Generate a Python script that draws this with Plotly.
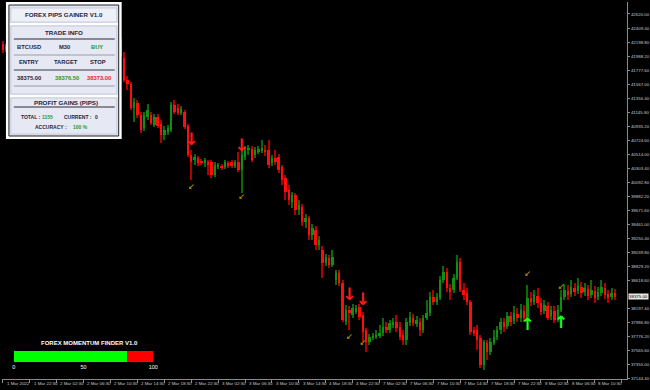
import plotly.graph_objects as go

# ---------------- data ----------------
opens = [42170, 42080, 42140, 42230, 42200, 42305, 42380, 42335, 42410, 42470, 42425, 42500, 42530, 42455, 42380, 42440, 42500, 42560, 42515, 42590, 42620, 42545, 42470, 42500, 42410, 42350, 42395, 42305, 42260, 42320, 42380, 42425, 42470, 42410, 42305, 42230,
         41960, 41630, 41570, 41210, 41285, 41105, 40910, 41075, 41105, 40955,
         41075, 40970, 40805, 40850, 40880, 41255, 41210, 41135, 41150, 40940,
         40505, 40430, 40460, 40415, 40385, 40400, 40400, 40205, 40325, 40340,
         40325, 40385, 40400, 40340, 40400, 40280, 40475, 40580, 40595, 40505,
         40550, 40565, 40580, 40580, 40385, 40460, 40475, 40325, 40160, 39980,
         39800, 39905, 39680, 39725, 39500, 39560, 39305, 39380, 39155, 39080,
         38885, 38960, 38855, 38630, 38735, 38585, 38000, 38180, 38105, 38150,
         38225, 38105, 37880, 37700, 37760, 37775, 37790, 37835, 37925, 37880,
         37955, 38000, 37925, 37805, 37730, 37985, 38060, 37970, 38000, 37880,
         38060, 38135, 38375, 38300, 38360, 38630, 38750, 38510, 38480, 38660,
         38900, 38480, 38435, 38300, 37880, 37880, 37760, 37355, 37685, 37550,
         37685, 37775, 37880, 38000, 37940, 38090, 38015, 38120, 38060, 38165,
         38075, 38360, 38300, 38390, 38285, 38165, 38240, 38090, 38165, 38045,
         38180, 38375, 38465, 38420, 38510, 38465, 38525, 38450, 38495, 38405,
         38465, 38375, 38435, 38510, 38420, 38375, 38435]
closes = [42080, 42140, 42230, 42200, 42305, 42380, 42335, 42410, 42470, 42425, 42500, 42530, 42455, 42380, 42440, 42500, 42560, 42515, 42590, 42620, 42545, 42470, 42500, 42410, 42350, 42395, 42305, 42260, 42320, 42380, 42425, 42470, 42410, 42305, 42230, 42005,
          41630, 41570, 41210, 41300, 41105, 40880, 41105, 41180, 40985, 41075,
          40940, 40805, 40880, 40910, 41255, 41150, 41135, 41195, 40925, 40505,
          40400, 40475, 40385, 40385, 40430, 40355, 40205, 40355, 40355, 40310,
          40400, 40340, 40340, 40400, 40280, 40505, 40580, 40610, 40430, 40580,
          40595, 40610, 40550, 40355, 40460, 40400, 40280, 40130, 39950, 39830,
          39905, 39680, 39755, 39500, 39560, 39305, 39410, 39155, 39230, 38885,
          38975, 38855, 38975, 38735, 38585, 38030, 38180, 38135, 38210, 38210,
          38075, 37850, 37700, 37775, 37790, 37805, 37835, 37925, 37880, 37985,
          38000, 37910, 37775, 37730, 38000, 38075, 37985, 38030, 37880, 38060,
          38135, 38375, 38300, 38375, 38630, 38750, 38510, 38450, 38660, 38900,
          38480, 38405, 38300, 37850, 37835, 37730, 37355, 37700, 37550, 37700,
          37775, 37880, 38000, 37925, 38090, 38000, 38135, 38060, 38180, 38060,
          38360, 38300, 38405, 38285, 38150, 38255, 38060, 38180, 38030, 38180,
          38375, 38480, 38405, 38525, 38450, 38540, 38435, 38510, 38390, 38480,
          38360, 38450, 38525, 38405, 38360, 38435, 38375]
highs = [42215, 42170, 42275, 42260, 42335, 42425, 42410, 42455, 42515, 42500, 42545, 42575, 42560, 42485, 42470, 42545, 42605, 42590, 42635, 42665, 42650, 42575, 42545, 42530, 42440, 42440, 42425, 42335, 42365, 42410, 42470, 42515, 42500, 42440, 42335, 42260,
         42050, 41690, 41600, 41360, 41330, 41150, 41150, 41270, 41150, 41120,
         41120, 41030, 40940, 40955, 41300, 41330, 41270, 41240, 41180, 40970,
         40580, 40520, 40490, 40445, 40460, 40430, 40430, 40400, 40385, 40370,
         40430, 40415, 40430, 40430, 40550, 40610, 40640, 40655, 40640, 40625,
         40640, 40730, 40655, 40730, 40505, 40580, 40520, 40355, 40205, 40055,
         39950, 39935, 39830, 39770, 39620, 39590, 39470, 39440, 39290, 39140,
         39020, 39005, 39080, 38780, 38780, 38630, 38255, 38240, 38270, 38255,
         38270, 38150, 37910, 37820, 37835, 37880, 37955, 38060, 38000, 38030,
         38060, 38105, 38000, 37880, 38060, 38150, 38120, 38090, 38060, 38105,
         38330, 38450, 38480, 38435, 38690, 38840, 38810, 38570, 38720, 39005,
         38960, 38585, 38510, 38330, 37925, 37955, 37805, 37730, 37730, 37760,
         37880, 37940, 38060, 38060, 38150, 38150, 38240, 38210, 38270, 38255,
         38555, 38450, 38480, 38510, 38360, 38330, 38300, 38240, 38240, 38255,
         38480, 38570, 38555, 38630, 38585, 38660, 38600, 38585, 38555, 38630,
         38540, 38525, 38630, 38585, 38480, 38510, 38495]
lows = [42035, 42050, 42110, 42155, 42170, 42275, 42290, 42305, 42380, 42380, 42395, 42455, 42410, 42335, 42350, 42410, 42470, 42470, 42485, 42545, 42500, 42425, 42440, 42365, 42305, 42320, 42260, 42215, 42230, 42290, 42350, 42395, 42365, 42260, 42185, 41975,
        41600, 41480, 41180, 41000, 41060, 40835, 40865, 41030, 40955, 40925,
        40910, 40685, 40730, 40805, 40850, 41120, 41105, 41105, 40895, 40475,
        40130, 40355, 40340, 40355, 40325, 40205, 40160, 40175, 40295, 40280,
        40295, 40310, 40310, 40310, 40250, 39935, 40430, 40505, 40400, 40460,
        40520, 40535, 40490, 40310, 40340, 40355, 40235, 40055, 39830, 39755,
        39710, 39605, 39605, 39440, 39410, 39230, 39230, 39080, 39080, 38660,
        38840, 38810, 38825, 38555, 38540, 38000, 37955, 37880, 38060, 38120,
        38030, 37700, 37550, 37655, 37730, 37745, 37760, 37790, 37835, 37835,
        37910, 37850, 37730, 37655, 37655, 37940, 37940, 37925, 37790, 37835,
        38030, 38090, 38255, 38255, 38330, 38585, 38450, 38330, 38435, 38630,
        38450, 38330, 38255, 37805, 37790, 37580, 37310, 37280, 37430, 37505,
        37655, 37730, 37820, 37850, 37895, 37940, 37970, 38000, 38000, 38000,
        38030, 38240, 38255, 38210, 38105, 38120, 38030, 38030, 37985, 38000,
        38150, 38330, 38330, 38375, 38390, 38420, 38360, 38390, 38330, 38360,
        38285, 38330, 38390, 38345, 38285, 38330, 38330]

assert len(opens) == len(closes) == len(highs) == len(lows)

date_tick_idx = [0, 8, 16, 24, 32, 40, 48, 56, 64, 72, 80, 88, 96, 104, 112, 120,
                 128, 136, 144, 152, 160, 168, 176]
date_labels = ["1 Mar 2022", "1 Mar 22:30", "2 Mar 02:30", "2 Mar 06:30", "2 Mar 10:30",
               "2 Mar 14:30", "2 Mar 18:30", "2 Mar 22:30", "3 Mar 02:30", "3 Mar 06:30",
               "3 Mar 10:30", "3 Mar 14:30", "4 Mar 18:30", "4 Mar 22:30", "7 Mar 02:30",
               "7 Mar 06:30", "7 Mar 10:30", "7 Mar 14:30", "7 Mar 18:30", "7 Mar 22:30",
               "8 Mar 02:30", "8 Mar 06:30", "8 Mar 10:30"]
extra_tick_idx = [184]

price_ticks = [42620.0, 42409.4, 42198.8, 41988.2, 41777.6, 41567.0, 41356.4, 41145.8,
               40935.2, 40724.6, 40514.0, 40303.4, 40092.8, 39882.2, 39671.6, 39461.0,
               39250.4, 39039.8, 38829.2, 38618.6, 38197.4, 37986.8, 37776.2, 37565.6,
               37355.0, 37144.4]

sell_idx = [56, 71, 103, 107]
sell_level = [40715, 40625, 38390, 38315]
buy_idx = [156, 166]
buy_level = [37940, 37970]
mark_idx = [56, 71, 103, 107, 156, 166]
mark_level = [40025, 39875, 37775, 37685, 38720, 38525]

symbol = "BTCUSD"
timeframe = "M30"
signal = "BUY"
entry_price = 38375.00
target_price = 38376.50
stop_price = 38373.00
total_pips = 1155
current_pips = 0
accuracy = 100
last_price = 38375.00
momentum = 81

# ---------------- geometry helpers ----------------
W, H = 650, 390
PL, PR, PT, PB = 0, 632, 2, 379


def fx(px):
    return (px - PL) / (PR - PL)


def fy(py):
    return (PB - py) / (PB - PT)


BULL = "#109010"
BULL_W = "#0a6a0a"
BEAR = "#ff0d0d"
BEAR_W = "#b00000"

idx = list(range(len(opens)))
bull = [c >= o for o, c in zip(opens, closes)]
body_base = [min(o, c) for o, c in zip(opens, closes)]
body_h = [max(abs(c - o), 12) for o, c in zip(opens, closes)]
wick_h = [h - l for h, l in zip(highs, lows)]

fig = go.Figure()
fig.add_trace(go.Bar(x=idx, y=wick_h, base=lows, width=0.32,
                     marker=dict(color=[BULL_W if b else BEAR_W for b in bull], line_width=0),
                     hoverinfo="skip"))
fig.add_trace(go.Bar(x=idx, y=body_h, base=body_base, width=0.72,
                     marker=dict(color=[BULL if b else BEAR for b in bull], line_width=0),
                     hoverinfo="skip"))

fig.add_trace(go.Scatter(x=sell_idx, y=sell_level, mode="text", text=["<b>↓</b>"] * len(sell_idx),
                         textfont=dict(color="#ff1a1a", size=17, family="DejaVu Sans"),
                         hoverinfo="skip"))
fig.add_trace(go.Scatter(x=buy_idx, y=buy_level, mode="text", text=["<b>↑</b>"] * len(buy_idx),
                         textfont=dict(color="#19ff19", size=17, family="DejaVu Sans"),
                         hoverinfo="skip"))
fig.add_trace(go.Scatter(x=mark_idx, y=mark_level, mode="text", text=["↙"] * len(mark_idx),
                         textfont=dict(color="#c8b400", size=8, family="DejaVu Sans"),
                         hoverinfo="skip"))

# momentum bar on its own small axes
fig.add_trace(go.Bar(x=[momentum], y=[0], base=[0], orientation="h", width=1,
                     marker=dict(color="#00ff00", line_width=0),
                     xaxis="x2", yaxis="y2", hoverinfo="skip"))
fig.add_trace(go.Bar(x=[100 - momentum], y=[0], base=[momentum], orientation="h", width=1,
                     marker=dict(color="#ff0000", line_width=0),
                     xaxis="x2", yaxis="y2", hoverinfo="skip"))

units = (PR - PL) / 3.4
x0 = -0.294

fig.update_layout(
    width=W, height=H,
    margin=dict(l=PL, r=W - PR, t=PT, b=H - PB),
    paper_bgcolor="black", plot_bgcolor="black",
    showlegend=False, barmode="overlay", bargap=0,
    xaxis=dict(range=[x0, x0 + units], showgrid=False, zeroline=False,
               showline=True, linecolor="#8a8a8a", linewidth=1,
               ticks="outside", ticklen=3, tickcolor="#8a8a8a",
               tickvals=date_tick_idx + extra_tick_idx, showticklabels=False),
    yaxis=dict(range=[37140, 42800], side="right", showgrid=False, zeroline=False,
               showline=True, linecolor="#8a8a8a", linewidth=1,
               ticks="outside", ticklen=2, tickcolor="#8a8a8a",
               tickvals=price_ticks, ticktext=[f"{v:.2f}" for v in price_ticks],
               tickfont=dict(size=4.4, color="#c8c8c8", family="Liberation Sans")),
    xaxis2=dict(domain=[fx(12), fx(153)], range=[0, 100], anchor="y2",
                showgrid=False, zeroline=False, showline=False,
                tickvals=[0, 50, 100], ticks="",
                tickfont=dict(size=5.5, color="white", family="Liberation Sans")),
    yaxis2=dict(domain=[fy(362), fy(351)], range=[-0.5, 0.5], anchor="x2",
                visible=False),
)

shapes = []
annots = []


def rect(x0_, y0_, x1_, y1_, fill, line=None, lw=0):
    shapes.append(dict(type="rect", xref="paper", yref="paper",
                       x0=fx(x0_), x1=fx(x1_), y0=fy(y1_), y1=fy(y0_),
                       fillcolor=fill, layer="above",
                       line=dict(color=line or fill, width=lw)))


def hline(x0_, x1_, y, color, w=1):
    shapes.append(dict(type="line", xref="paper", yref="paper",
                       x0=fx(x0_), x1=fx(x1_), y0=fy(y), y1=fy(y), layer="above",
                       line=dict(color=color, width=w)))


def text(x, y, s, color="#1f2542", size=5.8, bold=True, anchor="center"):
    annots.append(dict(xref="paper", yref="paper", x=fx(x), y=fy(y),
                       text=f"<b>{s}</b>" if bold else s, showarrow=False,
                       xanchor=anchor, yanchor="middle",
                       font=dict(color=color, size=size, family="Liberation Sans")))


# info panel
rect(4, 2, 121, 139, "white")
rect(7, 5, 118, 136, "#e2e4f0", "#202020", 1)
rect(9, 8, 116, 22, "#eef0f8", "#b4b8cc", 0.6)
rect(8, 23, 117, 25, "white")
rect(9, 26, 116, 94, "#e6e8f3", "#b8bccf", 0.6)
rect(8, 95, 117, 97, "white")
rect(9, 98, 116, 134, "#e6e8f3", "#b8bccf", 0.6)
hline(12, 114, 39, "#2a2a36", 1)
hline(12, 114, 55, "#9c9cae", 1)
hline(12, 114, 70, "#3a3a48", 1)
hline(12, 114, 86, "#9c9cae", 1)
hline(12, 114, 107, "#2a2a36", 1)

GREEN_T = "#1f9a1f"
RED_T = "#ec1c2a"
text(63, 15, "FOREX PIPS GAINER V1.0", size=6.2)
text(63, 32, "TRADE INFO", size=6.2)
text(27, 47, symbol)
text(63, 47, timeframe)
text(96, 47, signal, color=GREEN_T)
text(27, 62, "ENTRY")
text(65, 62, "TARGET")
text(97, 62, "STOP")
text(27, 78, f"{entry_price:.2f}")
text(66, 78, f"{target_price:.2f}", color=GREEN_T)
text(98, 78, f"{stop_price:.2f}", color=RED_T)
text(65, 102, "PROFIT GAINS (PIPS)", size=6.2)
text(29, 117, "TOTAL :", size=5)
text(46, 117, str(total_pips), color=GREEN_T, size=5)
text(77, 117, "CURRENT :", size=5)
text(96, 117, str(current_pips), size=5)
text(50, 127, "ACCURACY :", size=5)
text(79, 127, f"{accuracy} %", color=GREEN_T, size=5)

# momentum title
text(88, 343, "FOREX MOMENTUM FINDER V1.0", color="white", size=6)

# date labels (left aligned after tick)
for i, lab in zip(date_tick_idx, date_labels):
    annots.append(dict(xref="x", yref="paper", x=i + 0.5, y=fy(384), text=lab,
                       showarrow=False, xanchor="left", yanchor="middle",
                       font=dict(size=4.4, color="#c8c8c8", family="Liberation Sans")))

# current price box
annots.append(dict(xref="paper", yref="y", x=1.0, xshift=1, y=last_price,
                   text=f"{last_price:.2f}", showarrow=False, xanchor="left",
                   yanchor="middle", bgcolor="#e8e8e8", borderpad=0,
                   font=dict(size=4.4, color="black", family="Liberation Sans")))

fig.update_layout(shapes=shapes, annotations=annots)
fig.write_html("out.html")
